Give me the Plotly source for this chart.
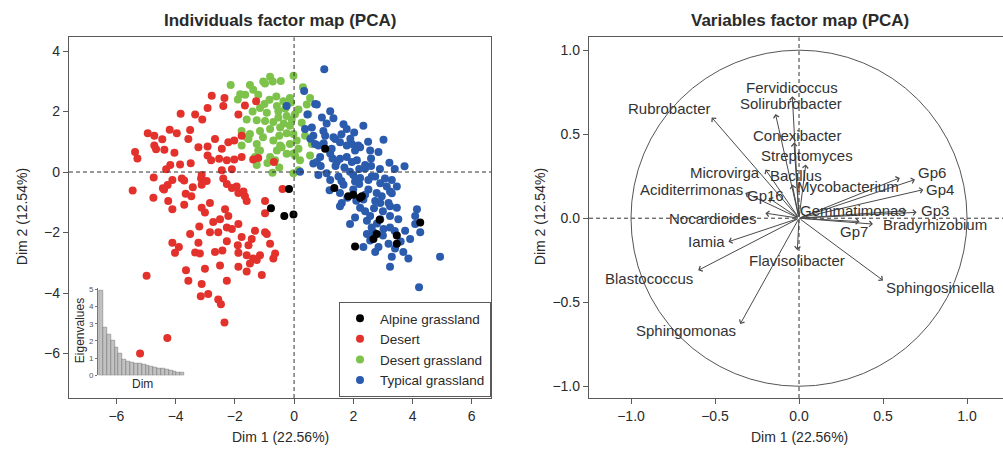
import plotly.graph_objects as go

W, H = 1003, 461

# ---------------- data: individuals (Dim 1, Dim 2) ----------------
alpine_x = [-0.17, -0.78, -0.33, -0.02, 1.05, 1.36, 1.83, 2.29, 2.06, 2.23, 2.68, 2.79, 3.47, 3.47, 4.26, 2.89, 2.00]
alpine_y = [-0.56, -1.20, -1.45, -1.40, 0.77, -0.53, -0.80, -0.80, -2.46, -0.85, -2.21, -2.05, -2.10, -2.37, -1.67, -1.58, -0.75]

desert_x = [-3.83, -3.34, -3.10, -4.94, -4.72, -4.20, -3.96, -3.51, -3.57, -4.45, -4.72, -4.66, -4.38, -4.04, -3.23,
            -5.37, -5.29, -4.18, -3.85, -3.49, -4.32, -4.74, -4.11, -3.79, -3.71, -5.45, -4.43, -4.27, -3.42, -4.75,
            -3.66, -3.47, -4.25, -4.11, -3.71, -3.12, -3.20, -3.51, -4.11, -3.89, -4.02, -3.23, -3.34, -3.65, -3.57,
            -4.98, -3.15, -3.12, -2.78, -2.35, -2.39, -2.92, -1.88, -1.66, -1.28, -2.67, -2.92, -2.44, -2.22, -2.02,
            -2.92, -2.80, -2.53, -2.27, -2.02, -2.44, -1.38, -0.68, -3.14, -3.12, -2.39, -2.27, -2.10, -1.88, -1.71,
            -1.94, -1.60, -2.84, -3.01, -2.33, -2.22, -0.39, -0.98, -0.98, -2.73, -2.50, -2.27, -2.10, -1.88, -2.84,
            -2.56, -1.77, -1.32, -1.43, -0.98, -2.27, -1.90, -1.54, -0.81, -3.18, -2.67, -2.42, -1.88, -1.60, -1.38,
            -1.26, -1.49, -1.15, -0.64, -0.70, -3.01, -2.50, -1.88, -1.60, -1.09, -2.27, -2.90, -2.56, -2.47, -2.35,
            -4.28, -5.20, -1.77, -1.77, -3.12, -2.10, -2.95, -4.39, -1.66, -1.21, -0.92]
desert_y = [1.93, 1.90, 1.74, 1.28, 1.20, 1.40, 1.28, 1.39, 1.09, 1.08, 0.88, 0.75, 0.74, 0.64, 0.82,
            0.66, 0.45, 0.23, 0.25, 0.29, 0.09, -0.18, -0.26, -0.21, -0.28, -0.61, -0.54, -0.43, -0.50, -0.85,
            -0.72, -0.80, -0.96, -1.23, -1.08, -1.18, -1.80, -2.05, -2.34, -2.48, -2.67, -2.34, -2.66, -3.25, -3.59,
            -3.43, -4.11, -3.70, 2.52, 2.45, 2.18, 2.12, 1.90, 2.20, 2.34, 1.09, 0.84, 0.77, 0.98, 1.04,
            0.55, 0.39, 0.44, 0.39, 0.41, 0.06, 0.41, 0.33, -0.21, -0.42, -0.21, -0.40, -0.53, -0.69, -0.64,
            -0.48, -0.96, -1.02, -1.34, -1.23, -1.45, -0.56, -0.96, -1.36, -1.65, -1.56, -1.83, -1.88, -1.72, -1.99,
            -1.99, -2.15, -1.94, -2.21, -1.99, -2.29, -2.42, -2.42, -2.37, -2.69, -2.64, -2.59, -2.67, -2.75, -2.86,
            -2.91, -3.02, -2.75, -2.69, -2.86, -3.20, -3.09, -3.13, -3.29, -3.40, -3.59, -4.03, -4.21, -4.37, -4.97,
            -5.49, -6.00, 1.20, 0.50, -0.10, 0.09, -0.30, -0.58, -0.80, 0.46, -2.05]

dgrass_x = [-2.14, -1.49, -1.38, -1.04, -0.81, -0.72, -0.45, -0.02, -1.82, -1.21, -0.83, -1.15, -0.92, -0.58, -0.36,
            -0.14, -1.60, -1.26, -0.53, -0.25, 0.03, -1.15, -0.81, -0.47, -0.14, -1.49, -1.54, -1.77, -1.26, -0.70,
            -0.47, -0.14, 0.09, -1.15, -0.58, -0.02, -1.32, -0.81, 0.20, -1.26, -0.73, -0.02, -0.98, -1.77, -1.60,
            -1.21, -0.64, -0.98, -0.53, -0.42, -0.25, 0.54, 0.43, -0.10, 0.15, 0.48, -0.08, 0.26, -0.02, 0.37,
            0.15, 0.03, 0.54, 0.60, 0.15, -1.00, -0.60, -0.30, -1.40, -0.70, -0.35, -1.05, -0.50, -0.25, -0.90,
            -0.50, 0.30, -1.90, -1.65]
dgrass_y = [2.88, 2.88, 2.72, 2.99, 3.15, 2.99, 3.01, 3.18, 2.57, 2.55, 2.39, 2.12, 1.96, 2.18, 2.34,
            2.45, 1.74, 1.71, 1.80, 1.85, 1.91, 1.36, 1.42, 1.47, 1.53, 1.26, 1.09, 0.88, 0.93, 1.04,
            0.88, 0.93, 1.04, 0.71, 0.71, 0.61, 0.50, 0.50, 0.39, 0.23, -0.02, -0.04, 2.93, 1.36, 1.15,
            0.71, 0.39, 1.69, 2.01, 0.82, 1.28, 2.45, 2.23, 2.30, 2.07, 1.91, 1.74, 1.63, 1.26, 1.20,
            0.77, 0.55, 0.55, 0.93, 0.06, 2.25, 2.50, 2.10, 2.00, 1.65, 1.60, 1.15, 1.20, 0.60, 0.30,
            0.15, 2.80, 2.40, 2.55]

typical_x = [1.02, 0.34, -0.25, 0.71, 1.22, 1.33, 0.94, 0.60, 0.99, 1.67, 1.78, 2.03, 2.34, 3.02, 1.33,
             1.55, 1.95, 0.71, 2.23, 2.57, 2.85, 3.22, 3.73, 0.88, 1.22, 1.44, 1.78, 2.12, 2.40, 0.65,
             0.82, 1.10, 1.50, 1.89, 2.23, 2.62, 2.91, 3.13, 3.47, 1.67, 2.00, 2.51, 2.79, 1.55, 2.34,
             1.61, 2.91, 3.24, 4.15, 0.77, 0.37, 0.65, 1.05, 1.39, 0.82, 1.27, 1.78, 2.06, 0.77, 1.55,
             1.95, 2.40, 0.20, 1.22, 2.06, 2.51, 2.40, 1.55, 2.23, 2.06, 2.46, 2.62, 2.46, 2.57, 2.34,
             1.89, 2.17, 2.74, 3.07, 3.30, 3.24, 2.96, 2.74, 3.19, 3.47, 2.57, 2.91, 3.24, 3.52, 4.09,
             4.09, 4.26, 3.75, 3.92, 2.68, 3.02, 3.24, 2.85, 3.19, 3.41, 2.74, 3.30, 3.69, 3.86, 3.24,
             4.93, 4.22, 1.00, 1.40, 1.70, 2.00, 2.20, 2.60, 2.90, 3.30, 2.20, 1.80, 2.10, 2.70, 3.00,
             2.40, 2.80, 3.00, 3.40, 3.60, 1.30, 1.10, 0.45, 0.55, 1.60, 1.90, 2.50, 2.60, 3.40, 0.90,
             1.60, 1.20]
typical_y = [3.40, 2.68, 2.18, 2.25, 2.01, 1.78, 1.80, 1.47, 1.36, 1.58, 1.42, 1.31, 1.53, 1.07, 1.15,
             0.98, 0.93, 0.93, 0.82, 0.71, 0.66, 0.31, 0.19, 0.50, 0.61, 0.33, 0.50, 0.39, 0.12, 0.28,
             -0.10, -0.04, -0.15, 0.01, -0.20, -0.15, -0.37, -0.48, -0.48, -0.42, -0.58, -0.58, -0.69, -0.69, -0.91,
             -1.02, -1.02, -1.13, -1.23, 2.23, 1.42, 1.20, 1.20, 1.09, 0.88, 0.77, 0.88, 0.71, 0.33, 0.44,
             0.33, 0.23, 0.01, -0.26, -0.31, -0.26, -0.75, -1.13, -1.18, -1.50, -1.61, -1.83, -2.05, -2.26, -2.48,
             -1.72, 0.88, -0.15, -0.21, -0.26, -0.64, -0.80, -0.96, -1.02, -1.18, -1.45, -1.56, -1.45, -1.56, -1.45,
             -1.72, -1.99, -1.94, -2.21, -1.99, -1.88, -1.83, -2.48, -2.37, -2.53, -2.64, -2.80, -2.64, -2.86, -3.13,
             -2.80, -3.81, 0.95, 0.20, 0.15, -0.10, 0.10, 0.20, 0.10, -0.70, -0.40, -0.85, -0.95, -1.20, -1.30,
             -1.30, -1.70, -2.10, -1.95, -2.30, 0.45, 1.60, 1.90, 1.10, 1.25, 1.10, 1.00, 0.45, 0.10, 0.20,
             -0.30, -0.60]

# ---------------- data: scree inset ----------------
eig_values = [4.96, 2.76, 2.39, 2.04, 1.62, 1.28, 0.92, 0.84, 0.78, 0.72, 0.67,
              0.62, 0.56, 0.51, 0.46, 0.42, 0.38, 0.33, 0.29, 0.24, 0.20, 0.17]
eig_dims = list(range(1, len(eig_values) + 1))

# ---------------- data: variables (correlations) ----------------
var_names = ["Fervidicoccus", "Solirubrobacter", "Rubrobacter", "Conexibacter", "Streptomyces",
             "Bacillus", "Microvirga", "Aciditerrimonas", "Gp16", "Nocardioides", "Iamia",
             "Blastococcus", "Sphingomonas", "Flavisolibacter", "Sphingosinicella", "Gp7",
             "Bradyrhizobium", "Gemmatimonas", "Gp3", "Gp4", "Gp6", "Mycobacterium"]
var_x = [-0.04, -0.14, -0.52, -0.03, 0.04, -0.04, -0.20, -0.32, -0.18, -0.20, -0.42,
         -0.60, -0.35, -0.01, 0.50, 0.36, 0.44, 0.64, 0.70, 0.74, 0.69, 0.60]
var_y = [0.725, 0.62, 0.60, 0.45, 0.32, 0.20, 0.29, 0.15, 0.12, 0.03, -0.14,
         -0.31, -0.63, -0.19, -0.37, -0.02, -0.035, 0.045, 0.035, 0.17, 0.23, 0.24]
lab_x = [-0.04, -0.05, -0.77, -0.01, 0.05, -0.02, -0.44, -0.64, -0.20, -0.51, -0.55,
         -0.89, -0.67, -0.01, 0.84, 0.33, 0.81, 0.32, 0.81, 0.84, 0.79, 0.29]
lab_y = [0.78, 0.68, 0.655, 0.49, 0.375, 0.255, 0.275, 0.17, 0.135, 0.0, -0.14,
         -0.36, -0.67, -0.25, -0.415, -0.08, -0.04, 0.047, 0.047, 0.17, 0.27, 0.19]

# ---------------- styling ----------------
FONT = "Liberation Sans, Arial, sans-serif"
TXT = "#2a2a2a"
FRAME = "#5a5a5a"
col = {"Alpine grassland": "#000000", "Desert": "#E3312C",
       "Desert grassland": "#7DC24A", "Typical grassland": "#2B5BAD"}


def px(p):
    return p / W


def py(p):
    return 1 - p / H


fig = go.Figure()

series = [("Desert grassland", dgrass_x, dgrass_y, 3),
          ("Desert", desert_x, desert_y, 2),
          ("Typical grassland", typical_x, typical_y, 4),
          ("Alpine grassland", alpine_x, alpine_y, 1)]
for name, xs, ys, rank in series:
    fig.add_trace(go.Scatter(x=xs, y=ys, mode="markers", name=name, legendrank=rank,
                             marker=dict(size=8, color=col[name], line=dict(width=0)),
                             xaxis="x", yaxis="y"))

fig.add_trace(go.Bar(x=eig_dims, y=eig_values, xaxis="x3", yaxis="y3", showlegend=False,
                     marker=dict(color="#c2c2c2", line=dict(color="#6e6e6e", width=0.5))))

plot_top, plot_bot = 35, 402
ydom = [py(plot_bot), py(plot_top)]

axis_common = dict(showgrid=False, zeroline=False, showline=True, linecolor=FRAME, linewidth=1.3,
                   ticks="outside", ticklen=5, tickcolor=FRAME, tickwidth=1,
                   tickfont=dict(family=FONT, size=14, color=TXT))

fig.update_layout(
    width=W, height=H,
    margin=dict(l=0, r=0, t=0, b=0),
    paper_bgcolor="white", plot_bgcolor="rgba(0,0,0,0)",
    font=dict(family=FONT, color=TXT),
    bargap=0,
    xaxis=dict(domain=[px(69), px(491)], range=[-7.6, 6.65], tickvals=[-6, -4, -2, 0, 2, 4, 6],
               anchor="y", mirror=True, **axis_common),
    yaxis=dict(domain=ydom, range=[-7.47, 4.45], tickvals=[-6, -4, -2, 0, 2, 4],
               anchor="x", mirror=True, **axis_common),
    xaxis2=dict(domain=[px(589), 1.0], range=[-1.25, 1.214], tickvals=[-1, -0.5, 0, 0.5, 1],
                tickformat=".1f", anchor="y2", mirror=True, **axis_common),
    yaxis2=dict(domain=ydom, range=[-1.07, 1.076], tickvals=[-1, -0.5, 0, 0.5, 1],
                tickformat=".1f", anchor="x2", mirror=False, **axis_common),
    xaxis3=dict(domain=[px(98), px(185)], range=[0.2, 22.7], visible=False, anchor="y3"),
    yaxis3=dict(domain=[py(379), py(290.5)], range=[0, 5.05], dtick=1, anchor="x3",
                showgrid=False, zeroline=False, showline=True, linecolor="#777", linewidth=0.8,
                ticks="outside", ticklen=2, tickcolor="#777",
                tickfont=dict(family=FONT, size=8, color="#555")),
    legend=dict(x=px(491), xanchor="right", y=py(401), yanchor="bottom",
                bordercolor=FRAME, borderwidth=1, bgcolor="white", itemwidth=30,
                font=dict(family=FONT, size=13.5, color=TXT), tracegroupgap=0),
    showlegend=True,
)

shapes = []
dash = dict(color="#333", width=1, dash="4px,3px")
shapes.append(dict(type="line", xref="x", yref="y domain", x0=0, x1=0, y0=0, y1=1, line=dash))
shapes.append(dict(type="line", xref="x domain", yref="y", x0=0, x1=1, y0=0, y1=0, line=dash))
shapes.append(dict(type="line", xref="x2", yref="y2 domain", x0=0, x1=0, y0=0, y1=1, line=dash))
shapes.append(dict(type="line", xref="x2 domain", yref="y2", x0=0, x1=1, y0=0, y1=0, line=dash))
shapes.append(dict(type="circle", xref="x2", yref="y2", x0=-1, x1=1, y0=-1, y1=1,
                   line=dict(color="#555", width=1)))
fig.update_layout(shapes=shapes)

ann = []
for vx, vy in zip(var_x, var_y):
    ann.append(dict(x=vx, y=vy, ax=0, ay=0, xref="x2", yref="y2", axref="x2", ayref="y2",
                    text="", showarrow=True, arrowhead=4, arrowsize=1.1, arrowwidth=1,
                    arrowcolor="#4a4a4a", standoff=0))
for name, lx, ly in zip(var_names, lab_x, lab_y):
    ann.append(dict(x=lx, y=ly, xref="x2", yref="y2", text=name, showarrow=False,
                    font=dict(family=FONT, size=15, color="#333")))

titles = [("<b>Individuals factor map (PCA)</b>", 280, 18, 0, 17),
          ("<b>Variables factor map (PCA)</b>", 800, 18, 0, 17),
          ("Dim 1 (22.56%)", 280, 442, 0, 14),
          ("Dim 1 (22.56%)", 799, 442, 0, 14),
          ("Dim 2 (12.54%)", 22, 218, -90, 14),
          ("Dim 2 (12.54%)", 540, 218, -90, 14),
          ("Eigenvalues", 80, 334, -90, 12),
          ("Dim", 142, 388, 0, 12)]
for t, x0, y0, ang, fs in titles:
    ann.append(dict(x=px(x0), y=py(y0), xref="paper", yref="paper", text=t, showarrow=False,
                    textangle=ang, xanchor="center", yanchor="middle",
                    font=dict(family=FONT, size=fs, color=TXT)))
fig.update_layout(annotations=ann)

fig.write_html("out.html", config={"displayModeBar": False},
               post_script="document.body.style.margin='0px';document.body.style.overflow='hidden';")
